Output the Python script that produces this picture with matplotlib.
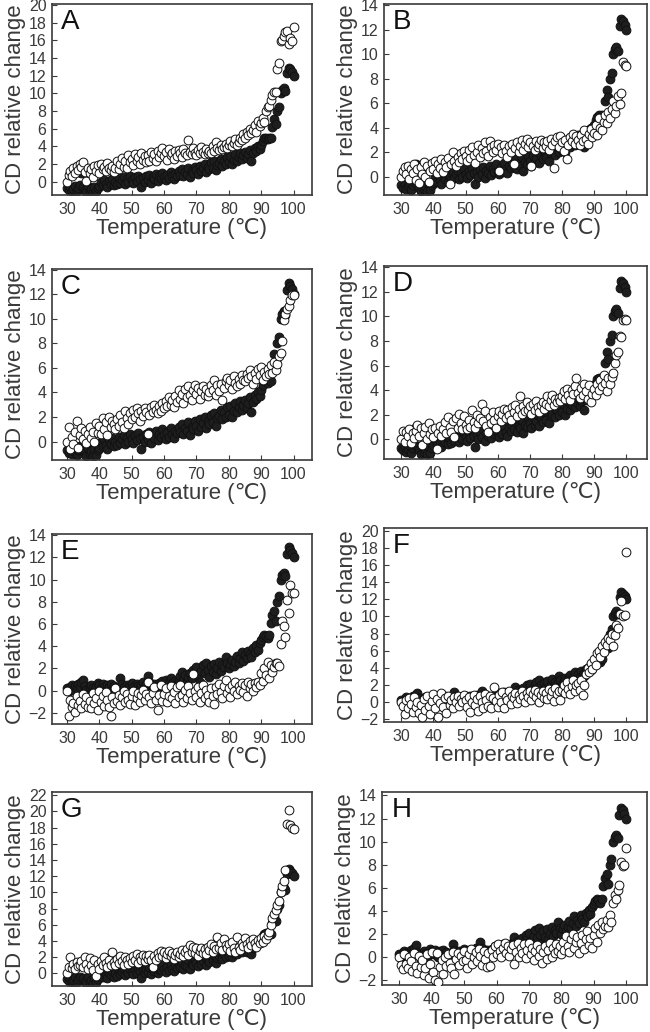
import numpy as np
import matplotlib
matplotlib.use("Agg")
import matplotlib.pyplot as plt

plt.rcParams['font.family'] = ['Liberation Sans', 'DejaVu Sans']

# Temperature grid (deg C)
temps = np.arange(30.0, 100.01, 0.5)

# reference (filled) series used in panels A, B, C, D, G
wt_a = [
    -0.7, -0.9, -0.6, -1.0, -0.8, -0.5, -1.1, -0.7, -0.4, 1.0,
    -0.6, -0.9, -1.2, -0.5, -1.0, -0.8, -1.2, -0.6, -1.1, -0.7,
    -0.5, 0.0, -0.4, 0.2, -0.3, -0.6, 0.1, -0.2, 0.3, -0.4,
    0.0, -0.3, 0.4, -0.1, 0.2, 0.5, -0.2, 0.3, 0.0, 0.6,
    0.2, -0.1, 0.5, 0.1, 0.7, 0.3, -0.6, 0.4, 0.0, 0.6,
    0.2, 0.8, -0.1, 0.5, 0.3, 0.9, 0.1, 0.6, 0.4, 1.0,
    0.5, 0.2, 0.8, 0.4, 1.1, 0.6, 0.3, 0.9, 0.7, 1.2,
    0.8, 1.4, 0.6, 1.1, 0.9, 1.6, 0.5, 1.2, 1.0, 1.7,
    1.3, 0.9, 1.8, 1.2, 1.5, 2.0, 1.1, 1.7, 1.4, 2.2,
    1.6, 2.3, 1.3, 1.9, 2.1, 2.6, 1.8, 2.4, 2.0, 2.8,
    2.2, 2.9, 2.0, 2.5, 3.1, 2.4, 2.8, 3.3, 2.6, 3.0,
    3.4, 2.7, 3.1, 3.6, 2.4, 3.2, 3.8, 3.5, 4.0, 3.7,
    4.2, 4.6, 4.9, 5.0, 4.8, 5.0, 4.9, 6.2, 7.1, 6.5,
    8.0, 8.5, 10.0, 10.4, 10.6, 10.3, 12.3, 12.9, 12.7, 12.4,
    12.0,
]

# reference (filled) series used in panels E, F, H
wt_e = [
    0.2, 0.0, 0.3, 0.5, 0.1, 0.4, 0.2, 0.6, 0.3, 0.8,
    1.0, 0.4, 0.1, -0.5, 0.3, 0.5, 0.2, 0.0, 0.4, 0.7,
    0.5, 0.2, 0.6, 0.3, 0.0, 0.5, 0.3, 0.6, 0.1, 0.4,
    0.0, 0.3, 0.2, 1.1, 0.6, 0.3, 0.0, 0.5, 0.2, 0.4,
    0.7, 0.3, 0.1, 0.6, 0.4, 0.2, 0.5, 0.8, 0.3, 0.6,
    1.3, 0.8, 0.5, 0.3, 0.6, 0.4, 0.2, 0.7, 0.5, 0.9,
    0.6, 1.0, 0.4, 0.8, 1.1, 0.7, 0.5, 0.9, 0.6, 1.0,
    1.3, 1.7, 1.0, 1.4, 0.8, 1.2, 1.6, 1.1, 1.9, 1.5,
    2.1, 1.4, 0.8, 1.8, 2.3, 1.6, 2.5, 1.9, 1.2, 2.2,
    1.7, 2.4, 1.5, 2.0, 2.6, 1.8, 2.3, 2.1, 3.0, 2.5,
    2.0, 2.4, 2.8, 2.2, 2.6, 3.1, 2.5, 2.9, 3.5, 2.7,
    3.2, 2.9, 3.6, 3.3, 3.0, 3.8, 3.5, 4.1, 3.7, 4.3,
    4.6, 4.8, 5.0, 4.9, 4.7, 5.0, 6.1, 6.8, 7.2, 6.3,
    8.0, 8.5, 10.0, 10.4, 10.6, 10.3, 12.3, 12.9, 12.7, 12.4,
    12.0,
]

mut_a = [
    0.0, 0.8, 1.2, 0.6, 1.5, 1.0, 1.8, 1.3, 2.0, 1.7,
    2.2, 1.1, 0.1, 1.6, 1.0, 1.4, 0.5, 1.8, 1.2, 1.9,
    1.0, 2.0, 1.4, 1.7, 1.2, 2.1, 1.5, 1.3, 1.8, 1.1,
    1.6, 2.3, 1.4, 2.0, 2.7, 1.7, 2.4, 1.6, 3.0, 2.2,
    2.6, 1.9, 3.1, 2.3, 2.8, 2.0, 3.3, 2.5, 2.9, 2.2,
    3.0, 2.4, 3.4, 2.7, 3.1, 2.3, 3.5, 2.8, 3.2, 3.8,
    2.9, 3.4, 2.5, 3.7, 3.0, 3.3, 2.6, 3.5, 2.9, 3.6,
    3.2, 2.8, 3.7, 3.3, 3.0, 4.7, 3.4, 3.1, 3.8, 3.3,
    3.0, 3.6, 3.2, 3.9, 3.4, 3.1, 3.7, 3.3, 3.5, 3.2,
    4.0, 3.5, 4.5, 3.8, 3.6, 4.2, 3.7, 3.9, 4.3, 3.8,
    4.1, 4.6, 4.0, 4.4, 4.8, 4.2, 4.5, 5.0, 4.7, 5.4,
    4.9, 5.6, 5.3, 6.0, 5.5, 5.8, 6.4, 5.6, 6.9, 6.3,
    6.6, 7.2, 6.8, 8.0, 8.5, 8.6, 9.2, 9.8, 10.1, 10.2,
    12.8, 13.4, 15.9, 16.0, 16.5, 16.9, 17.0, 15.6, 16.2, 15.9,
    17.5,
]

mut_b = [
    0.0, 0.5, 0.8, 0.2, 0.9, -0.2, 0.6, 0.3, 1.0, -0.3,
    0.6, -0.5, 0.8, 0.2, 1.2, 0.0, 0.9, -0.4, 0.5, 1.1,
    0.6, 1.3, 0.3, 1.0, 0.7, 1.4, 0.4, 1.2, 0.8, 1.5,
    -0.6, 1.0, 2.0, 1.3, 0.9, 1.6, 1.2, 1.9, 1.4, 2.1,
    1.7, 1.3, 2.2, 1.5, 2.4, 1.8, 1.1, 2.0, 2.6, 1.6,
    2.3, 1.9, 2.8, 2.1, 1.7, 2.9, 2.4, 2.0, 2.6, 2.2,
    2.7, 0.5, 2.4, 1.9, 2.6, 2.1, 1.6, 2.5, 2.0, 2.7,
    1.0, 2.3, 2.8, 2.0, 2.5, 3.0, 2.2, 2.7, 3.1, 2.4,
    2.8, 0.9, 2.5, 2.2, 2.9, 2.4, 2.7, 3.0, 2.3, 2.8,
    2.5, 2.9, 2.2, 3.1, 2.6, 0.7, 2.9, 3.2, 2.4, 3.3,
    2.8, 2.1, 3.0, 1.4, 2.6, 3.2, 2.9, 3.5, 2.7, 3.3,
    3.0, 2.6, 3.4, 2.9, 3.8, 3.1, 2.7, 3.5, 3.9, 3.2,
    3.6, 4.2, 3.4, 4.8, 4.0, 3.8, 4.5, 5.0, 4.4, 5.3,
    4.8, 5.5, 6.2, 5.2, 5.8, 6.6, 5.9, 6.8, 9.4, 9.1,
    9.0,
]

mut_c = [
    0.0, 1.2, -0.6, 0.4, -0.2, 0.8, 1.7, -0.5, 0.5, 1.1,
    0.2, 0.9, -0.1, 0.6, 1.2, 0.3, 0.8, 0.0, 1.5, 0.7,
    1.3, 0.6, 1.9, 1.0, 1.6, 0.5, 2.0, 1.2, 1.7, 1.4,
    1.0, 1.8, 1.3, 2.2, 1.6, 1.1, 2.5, 1.9, 1.4, 2.3,
    1.8, 2.6, 2.0, 2.7, 2.3, 1.7, 2.5, 2.1, 2.7, 2.4,
    0.6, 2.2, 2.8, 2.4, 3.0, 2.6, 2.3, 2.9, 2.5, 3.1,
    2.7, 3.3, 2.9, 3.6, 3.0, 3.4, 2.8, 3.7, 3.2, 4.2,
    3.5, 3.9, 3.1, 4.3, 3.6, 4.5, 3.8, 3.4, 4.2, 4.6,
    3.9, 4.4, 3.5, 4.1, 4.5, 3.8, 4.3, 3.7, 4.0, 4.6,
    4.2, 5.0, 3.8, 4.6, 4.1, 4.7, 3.4, 4.4, 4.9, 5.2,
    4.6, 5.0, 4.3, 5.3, 4.8, 4.5, 5.1, 4.7, 5.4, 5.0,
    4.9, 5.5, 5.2, 5.8, 5.3, 4.7, 5.6, 5.1, 5.9, 5.4,
    6.1, 5.0, 5.7, 5.3, 5.9, 5.5, 6.2, 5.6, 6.5, 5.8,
    6.3, 7.0, 7.2, 8.2, 9.9, 10.4, 10.8, 11.0, 11.5, 11.9,
    11.9,
]

mut_d = [
    0.0, 0.7, -0.2, 0.6, 0.3, 0.8, -0.3, 0.5, 0.1, 0.7,
    1.2, 0.3, 0.9, -0.5, 0.5, 1.0, 0.0, 1.3, 0.4, 0.8,
    0.2, 0.9, -0.8, 0.5, 1.1, 0.3, 0.8, 1.4, 0.5, 1.8,
    1.0, 0.6, 1.5, 0.2, 1.7, 0.9, 2.1, 1.3, 0.8, 1.9,
    1.2, 0.8, 1.6, 1.0, 2.4, 1.4, 0.9, 2.0, 1.3, 1.7,
    2.9, 1.5, 2.3, 1.1, 0.6, 1.8, 1.3, 2.2, 1.6, 0.9,
    1.9, 2.3, 1.5, 2.1, 2.5, 1.7, 2.4, 2.0, 1.6, 2.6,
    2.2, 2.8, 1.9, 2.5, 3.5, 2.1, 2.7, 2.3, 3.0, 2.4,
    2.7, 2.1, 2.9, 2.4, 3.1, 2.6, 2.2, 2.8, 3.0, 2.5,
    2.9, 3.5, 2.7, 3.2, 3.6, 2.8, 3.3, 3.0, 3.4, 3.1,
    3.5, 3.9, 3.3, 4.1, 3.6, 3.2, 4.0, 3.7, 4.3, 5.0,
    3.8, 3.4, 4.2, 3.6, 4.5, 3.9, 3.3, 4.4, 3.0, 3.7,
    4.1, 3.6, 4.5, 4.0, 4.8, 4.3, 5.2, 4.6, 3.9, 5.0,
    4.5, 5.1, 5.4, 6.2, 6.9, 7.1, 8.4, 8.3, 9.7, 9.8,
    9.7,
]

mut_e = [
    0.0, -2.3, -0.8, -1.5, -1.1, -1.9, -0.5, -1.3, -0.9, -1.6,
    -0.3, -1.2, -0.6, -1.5, -0.9, -1.6, -0.2, -1.1, -0.7, -1.7,
    0.0, -1.0, -0.5, -1.4, -0.1, -0.8, -1.5, -2.3, -0.6, -1.1,
    0.2, -0.9, -0.4, -1.3, -0.6, 0.0, -1.0, -0.3, -0.8, -1.2,
    -0.5, 0.0, -1.3, -0.7, -0.2, -1.0, -0.4, 0.1, -0.8, -0.3,
    0.8, -0.6, -1.1, -0.2, 0.3, -0.8, -1.7, -0.4, 0.5, -0.9,
    -0.3, 0.2, -1.0, -0.5, 0.4, -0.7, -0.1, -1.1, 0.3, -0.6,
    0.5, -0.4, -1.0, 0.1, -0.7, 0.4, -0.2, -0.8, 1.5, 0.0,
    -0.6, 0.3, -1.0, -0.2, 0.5, -0.7, 0.1, -0.4, -1.0, 0.2,
    -0.5, -1.2, 0.3, -0.3, 0.6, -0.1, -0.7, 0.4, 1.0, -0.2,
    0.2, -0.6, 0.5, 0.0, 0.8, -0.3, 0.4, 0.1, 0.7, -0.1,
    0.5, -0.5, 0.8, 0.2, 0.6, 0.0, 0.7, 0.3, 0.8, 0.5,
    1.6, 0.9, 2.0, 1.4, 2.6, 1.1, 2.3, 1.7, 2.1, 2.5,
    2.5, 2.2, 4.2, 6.3, 5.8, 4.8, 8.2, 7.0, 9.5, 8.8,
    8.8,
]

mut_f = [
    0.0, -0.5, -1.5, 0.2, -0.8, 0.4, -0.3, -1.2, 0.5, -0.6,
    0.0, -1.4, -0.4, -1.8, 0.3, -1.0, 0.6, -0.5, -1.5, 0.1,
    0.9, -0.8, 0.3, -1.8, -0.2, 1.0, -0.6, 0.4, -1.3, 0.7,
    -0.4, 0.2, -0.8, 0.5, 0.0, 0.7, -0.5, 0.3, -0.1, 0.8,
    0.2, -0.6, 0.5, -1.2, 0.0, 0.8, -0.4, 0.3, -1.1, 0.6,
    0.0, -0.7, 0.9, 0.2, -0.5, 0.6, -0.8, 0.4, 1.7, 0.1,
    -0.6, 0.8, 0.0, 1.1, -0.8, 0.5, 0.2, 1.2, -0.3, 0.7,
    0.4, 1.0, -0.2, 0.8, 0.3, 1.2, 0.6, 0.0, 1.0, 0.5,
    1.2, 0.2, 0.9, 1.4, 0.5, 1.1, 0.0, 0.8, 1.3, 0.4,
    1.0, 0.3, 1.5, 0.7, 1.2, 0.1, 1.6, 0.9, 1.3, 0.2,
    1.4, 2.0, 1.0, 2.3, 1.5, 0.9, 1.8, 2.5, 1.2, 1.9,
    2.2, 1.4, 2.5, 0.8, 2.0, 3.2, 4.0, 3.5, 4.5, 3.8,
    5.0, 4.3, 5.7, 6.0, 5.2, 6.5, 5.8, 7.0, 6.6, 7.5,
    7.2, 8.0, 6.5, 7.8, 9.0, 8.7, 10.3, 11.8, 10.0, 10.2,
    17.6,
]

mut_g = [
    0.0, 0.8, 2.0, 0.7, 1.2, 0.6, 1.4, 0.9, 1.1, 1.5,
    0.8, 2.0, 1.2, 0.5, 1.9, 1.0, 0.4, 1.6, -0.3, 1.2,
    0.6, 1.5, 1.0, 2.0, 1.3, 0.8, 1.7, 1.1, 2.6, 1.4,
    1.0, 1.8, 1.3, 2.2, 1.5, 1.1, 2.0, 1.6, 1.2, 1.9,
    1.4, 2.1, 1.6, 2.4, 1.3, 2.0, 1.7, 2.3, 1.5, 2.1,
    1.8, 2.3, 1.6, 0.8, 2.1, 1.7, 2.5, 2.0, 2.8, 2.2,
    2.6, 1.9, 2.4, 2.8, 2.1, 2.5, 1.8, 2.3, 2.7, 2.0,
    2.4, 2.9, 2.2, 2.6, 3.0, 2.3, 3.5, 2.7, 3.3, 2.5,
    3.1, 2.2, 2.8, 3.2, 2.5, 3.0, 2.4, 3.3, 2.9, 3.6,
    2.7, 3.4, 3.0, 4.5, 3.2, 3.8, 2.9, 4.2, 3.5, 3.1,
    3.6, 2.8, 3.9, 3.2, 2.6, 4.5, 3.3, 2.9, 3.8, 3.4,
    4.4, 3.6, 3.1, 4.0, 3.5, 4.3, 3.8, 3.3, 4.1, 3.7,
    4.4, 3.9, 4.6, 4.2, 4.8, 5.1, 6.0, 6.8, 7.4, 7.8,
    8.4, 9.0, 10.0, 10.8, 11.4, 12.8, 18.5, 20.2, 18.3, 17.9,
    17.8,
]

mut_h = [
    0.0, -0.7, -1.1, 0.2, -0.6, -1.0, 0.0, -0.4, -1.2, 0.3,
    -0.8, -1.4, 0.1, -0.9, -0.3, -1.6, -1.0, 0.2, -1.8, -0.6,
    0.4, -1.3, -2.0, 0.3, -2.2, -0.9, -0.3, -1.5, 0.0, -0.8,
    0.2, -0.5, -1.0, 0.4, -1.5, -0.2, 0.3, -0.7, 0.1, -0.4,
    0.5, -0.3, -1.0, 0.2, 0.7, -0.6, 0.0, 0.4, -0.4, 0.7,
    0.1, -0.7, 0.5, -0.2, -0.9, 0.3, -0.8, 0.6, 0.0, 0.9,
    0.2, 1.1, 0.5, 0.0, 0.8, 1.2, 0.3, 0.9, 0.1, 0.7,
    1.0, -0.6, 0.4, 1.2, 0.0, 0.8, 0.3, 1.1, -0.1, 0.6,
    1.2, 0.2, 0.8, -0.3, 0.5, 1.0, 0.1, 0.7, -0.5, 0.4,
    0.9, -0.2, 0.6, 1.2, 0.0, 0.8, 0.3, 1.1, 0.5, 0.9,
    0.2, 1.3, 0.6, 1.8, 0.9, 0.4, 1.5, 2.0, 0.8, 1.3,
    1.7, 0.3, 1.2, 1.9, 0.7, 1.5, 2.2, 1.0, 1.6, 0.8,
    1.9, 2.5, 1.3, 2.8, 2.1, 3.0, 2.4, 2.7, 3.2, 2.6,
    3.6, 3.0, 4.7, 5.4, 5.0, 5.8, 6.2, 8.2, 7.9, 8.0,
    9.4,
]

panel_letters = ['A', 'B', 'C', 'D', 'E', 'F', 'G', 'H']
panel_filled = [wt_a, wt_a, wt_a, wt_a, wt_e, wt_e, wt_a, wt_e]
panel_open = [mut_a, mut_b, mut_c, mut_d, mut_e, mut_f, mut_g, mut_h]
panel_yticks = [
    list(range(0, 21, 2)), list(range(0, 15, 2)), list(range(0, 15, 2)), list(range(0, 15, 2)),
    list(range(-2, 15, 2)), list(range(-2, 21, 2)), list(range(0, 23, 2)), list(range(-2, 15, 2)),
]
panel_ylim = [(-1.5, 20.1), (-1.5, 14.1), (-1.5, 14.05), (-1.6, 14.1),
              (-3.0, 14.1), (-2.4, 20.4), (-1.55, 22.4), (-2.45, 14.3)]
xticks = [30, 40, 50, 60, 70, 80, 90, 100]

W, H = 650, 1032
# pixel boxes: left, top, right, bottom
boxes = [(52, 4, 312, 195), (384, 4, 647, 195),
         (52, 269, 312, 460), (384, 266, 647, 459),
         (52, 534, 312, 724), (384, 528, 647, 722),
         (52, 792, 312, 986), (382, 792, 647, 985)]

fig = plt.figure(figsize=(W / 100, H / 100), dpi=100)
txt_col = '#3a3a3a'
for i in range(8):
    l, t, r, b = boxes[i]
    ax = fig.add_axes([l / W, 1 - b / H, (r - l) / W, (b - t) / H])
    ax.scatter(temps, panel_filled[i], s=40, facecolor='#1e1e1e', edgecolor='#111111',
               linewidths=0.7, zorder=2, clip_on=True)
    ax.scatter(temps, panel_open[i], s=40, facecolor='white', edgecolor='#111111',
               linewidths=0.7, zorder=3, clip_on=True)
    if i % 2 == 0:
        ax.set_xlim(25.4, 105.7)
    else:
        ax.set_xlim(24.6, 106.5)
    ax.set_ylim(*panel_ylim[i])
    ax.set_xticks(xticks)
    ax.set_yticks(panel_yticks[i])
    ax.tick_params(direction='in', length=3.5, width=0.8, colors='#3a3a3a',
                   labelcolor=txt_col, labelsize=11.5)
    ax.tick_params(axis='x', pad=5)
    ax.tick_params(axis='y', pad=4)
    for sp in ax.spines.values():
        sp.set_color('#3a3a3a')
        sp.set_linewidth(1.2)
    ax.set_xlabel('Temperature (\u2103)', fontsize=16, color=txt_col, labelpad=1)
    ax.set_ylabel('CD relative change', fontsize=16, color=txt_col, labelpad=2)
    ax.text(0.035, 0.975, panel_letters[i], transform=ax.transAxes, ha='left', va='top',
            fontsize=20, color='#111111')

fig.savefig('out.png', dpi=100)
